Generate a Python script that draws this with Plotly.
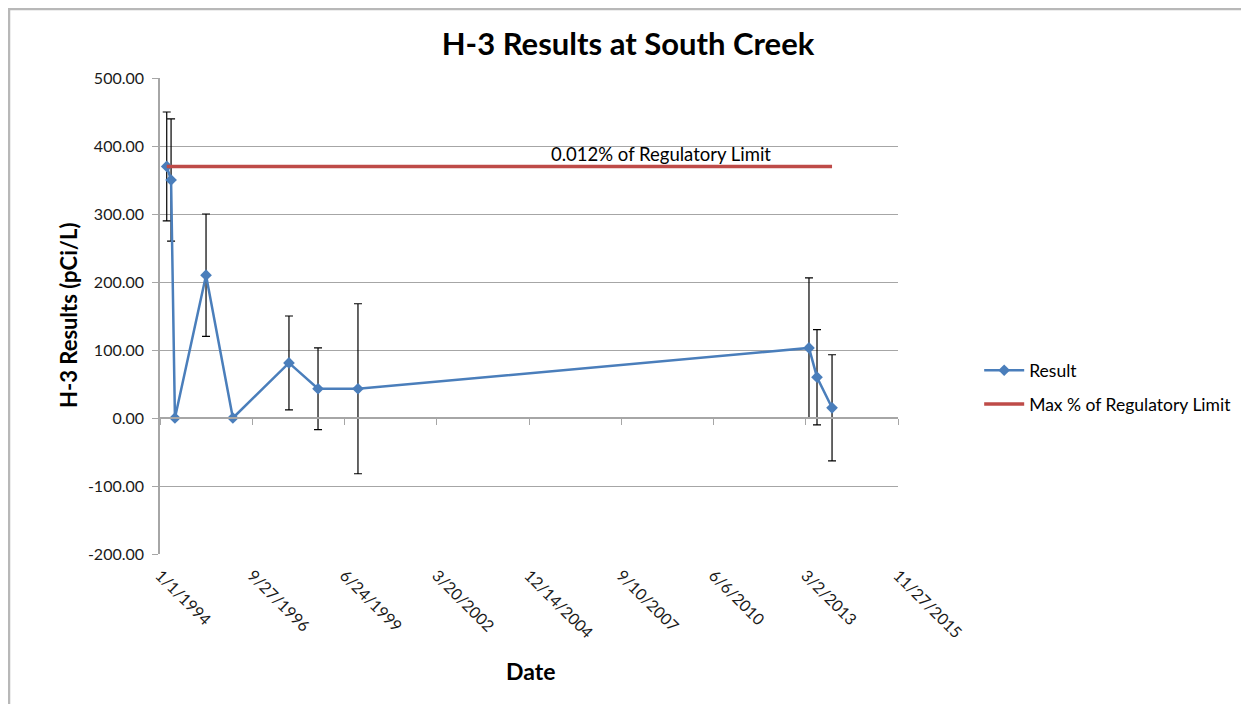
import plotly.graph_objects as go

# ---- data ----
dates = ["1994-03-15", "1994-05-01", "1994-06-12", "1995-05-15", "1996-03-01",
         "1997-10-30", "1998-09-10", "1999-11-17", "2013-04-06", "2013-07-02",
         "2013-12-12"]
results = [370, 350, 0, 210, 0, 81, 43, 43, 103, 60, 15]
errors = [80, 90, 0, 90, 0, 69, 60, 125, 103, 70, 78]

limit_dates = ["1994-03-15", "2013-12-12"]
limit_values = [370, 370]
limit_label = "0.012% of Regulatory Limit"

tick_dates = ["1994-01-01", "1996-09-27", "1999-06-24", "2002-03-20", "2004-12-14",
              "2007-09-10", "2010-06-06", "2013-03-02", "2015-11-27"]
tick_labels = ["1/1/1994", "9/27/1996", "6/24/1999", "3/20/2002", "12/14/2004",
               "9/10/2007", "6/6/2010", "3/2/2013", "11/27/2015"]
y_ticks = [-200, -100, 0, 100, 200, 300, 400, 500]
y_tick_labels = [f"{v:.2f}" for v in y_ticks]

FONT = "Lato, Carlito, 'Open Sans', sans-serif"
BLUE = "#4A7EBB"
RED = "#BE4B48"
GRID = "#A6A6A6"

L, R, T, B = 152, 351, 70, 150
PW, PH = 738, 476

fig = go.Figure()

fig.add_trace(go.Scatter(
    x=dates, y=results, mode="lines+markers", name="Result",
    line=dict(color=BLUE, width=2.5),
    marker=dict(symbol="diamond", size=9, color=BLUE),
    error_y=dict(type="data", array=errors, visible=True, color="black",
                 thickness=1.2, width=4),
    legendgroup="a",
))

fig.add_trace(go.Scatter(
    x=limit_dates, y=limit_values, mode="lines", name="Max % of Regulatory Limit",
    line=dict(color=RED, width=3.5),
    legendgroup="b",
))

# carrier trace for the tick marks along the y=0 line (Excel-style axis crossing)
fig.add_trace(go.Scatter(x=[tick_dates[0]], y=[None], xaxis="x2", showlegend=False,
                         hoverinfo="skip"))

xrange = [tick_dates[0], tick_dates[-1]]

fig.update_layout(
    width=L + PW + R, height=T + PH + B,
    paper_bgcolor="white", plot_bgcolor="white",
    margin=dict(l=L, r=R, t=T, b=B),
    font=dict(family=FONT, size=15, color="black"),
    title=dict(text="<b>H-3 Results at South Creek</b>", x=(628 - 8) / (L + PW + R),
               xanchor="center", y=1 - (44 - 8) / (T + PH + B), yanchor="middle",
               font=dict(family=FONT, size=31)),
    xaxis=dict(
        type="date", range=xrange, tickvals=tick_dates, ticktext=tick_labels,
        tickangle=45, showgrid=False, zeroline=False, showline=False, ticks="",
        tickfont=dict(size=16, color="#1a1a1a"), ticklabelstandoff=8,
    ),
    xaxis2=dict(
        type="date", range=xrange, tickvals=tick_dates, overlaying="x",
        anchor="free", position=136 / 476, showticklabels=False,
        showgrid=False, zeroline=False, showline=True, linecolor=GRID, linewidth=1.5,
        ticks="outside", ticklen=6, tickcolor=GRID, tickwidth=1,
    ),
    yaxis=dict(
        range=[-200, 500], tickvals=y_ticks, ticktext=y_tick_labels,
        showgrid=True, gridcolor=GRID, gridwidth=1, zeroline=False,
        showline=True, linecolor=GRID, linewidth=1.5, ticks="outside",
        ticklen=6, tickcolor=GRID, ticklabelstandoff=5,
        tickfont=dict(size=16, color="#1a1a1a"),
    ),
    legend=dict(x=1.110, xanchor="left", y=0.35, yanchor="middle",
                font=dict(size=17.5), traceorder="grouped", tracegroupgap=8,
                itemwidth=40, bgcolor="rgba(0,0,0,0)"),
    annotations=[
        dict(x="2008-11-15", y=370, xref="x", yref="y", text=limit_label,
             showarrow=False, yanchor="bottom", yshift=-1, font=dict(size=18.5)),
        dict(x=(530 - 160) / PW, y=(554 - 671) / PH, xref="paper", yref="paper",
             text="<b>Date</b>", showarrow=False, xanchor="center", yanchor="middle",
             font=dict(size=23)),
        dict(x=(68 - 160) / PW, y=(554 - 316) / PH, xref="paper", yref="paper",
             text="<b>H-3 Results (pCi/L)</b>", showarrow=False, textangle=-90,
             xanchor="center", yanchor="middle", font=dict(size=22)),
    ],
    shapes=[
        dict(type="line", xref="paper", yref="paper", x0=-L / PW, x1=1 + R / PW,
             y0=1 + (T - 1) / PH, y1=1 + (T - 1) / PH,
             line=dict(color="#B8B8B8", width=2.5)),
        dict(type="line", xref="paper", yref="paper", x0=-(L - 1) / PW, x1=-(L - 1) / PW,
             y0=-B / PH, y1=1 + T / PH, line=dict(color="#B8B8B8", width=2.5)),
    ],
)

fig.write_html("out.html")
